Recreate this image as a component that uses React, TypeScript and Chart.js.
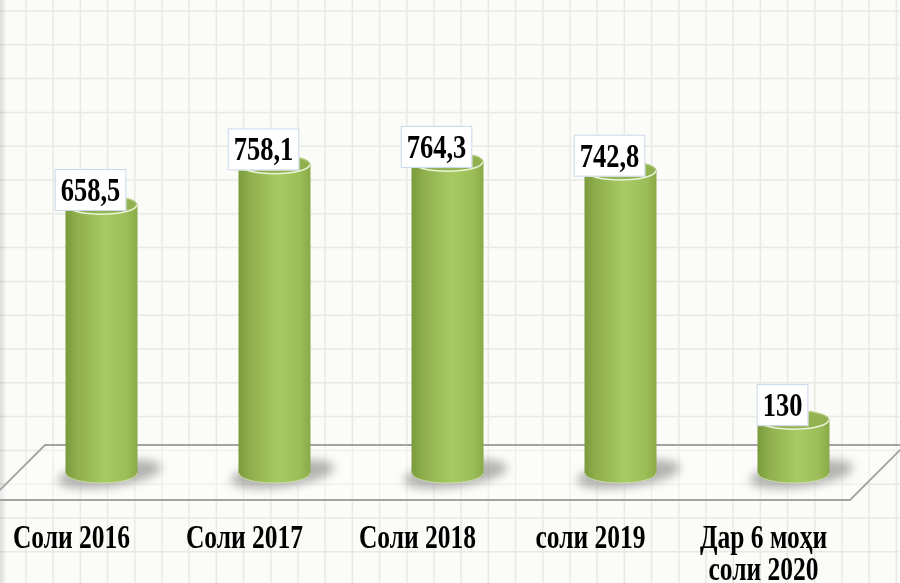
import React, { useEffect, useRef } from 'react';
import { Chart, registerables } from 'chart.js';

Chart.register(...registerables);

const categories: string[][] = [
  ['Соли 2016'],
  ['Соли 2017'],
  ['Соли 2018'],
  ['соли 2019'],
  ['Дар 6 моҳи', 'соли 2020'],
];
const values: number[] = [658.5, 758.1, 764.3, 742.8, 130];
const valueLabels: string[] = ['658,5', '758,1', '764,3', '742,8', '130'];

const FONT = '"Liberation Serif", "Times New Roman", serif';
const VSCALE = 1.28;

function stretchedText(ctx: CanvasRenderingContext2D, text: string, x: number, y: number) {
  ctx.save();
  ctx.translate(x, y);
  ctx.scale(1, VSCALE);
  ctx.fillText(text, 0, 0);
  ctx.restore();
}

const cylinderPlugin = {
  id: 'cylinders',
  beforeDraw(chart: any) {
    const ctx: CanvasRenderingContext2D = chart.ctx;
    const W = chart.width;
    const H = chart.height;
    const area = chart.chartArea;
    ctx.save();
    ctx.fillStyle = '#fbfbf8';
    ctx.fillRect(0, 0, W, H);
    // grid
    ctx.strokeStyle = '#e8e8e4';
    ctx.lineWidth = 1.5;
    for (let x = 26 - 27.2; x < W; x += 27.2) {
      ctx.beginPath();
      ctx.moveTo(x, 0);
      ctx.lineTo(x, H);
      ctx.stroke();
    }
    for (let y = 11; y < H; y += 33.8) {
      ctx.beginPath();
      ctx.moveTo(0, y);
      ctx.lineTo(W, y);
      ctx.stroke();
    }
    // left edge shade
    const lg = ctx.createLinearGradient(0, 0, 7, 0);
    lg.addColorStop(0, 'rgba(0,0,0,0.12)');
    lg.addColorStop(1, 'rgba(0,0,0,0)');
    ctx.fillStyle = lg;
    ctx.fillRect(0, 0, 7, H);
    // floor
    const base = area.bottom;
    const backY = base - 28;
    const frontY = base + 27;
    const bl = area.left + 30;
    const fr = area.right - 30;
    ctx.beginPath();
    ctx.moveTo(bl, backY);
    ctx.lineTo(fr + 55, backY);
    ctx.lineTo(fr, frontY);
    ctx.lineTo(bl - 55, frontY);
    ctx.closePath();
    ctx.fillStyle = 'rgba(255,255,255,0.35)';
    ctx.fill();
    ctx.strokeStyle = '#a3a3a3';
    ctx.lineWidth = 1.8;
    ctx.stroke();
    ctx.restore();
  },
  afterDatasetsDraw(chart: any) {
    const ctx: CanvasRenderingContext2D = chart.ctx;
    const meta = chart.getDatasetMeta(0);
    ctx.save();
    meta.data.forEach((bar: any, i: number) => {
      const cx = bar.x;
      const top = bar.y;
      const base = bar.base;
      const rx = bar.width / 2;
      const ry = 10;
      // shadow
      ctx.save();
      ctx.filter = 'blur(5px)';
      ctx.fillStyle = 'rgba(90,90,90,0.45)';
      ctx.beginPath();
      ctx.ellipse(cx + 8, base + 1, rx + 16, ry + 3, -0.13, 0, Math.PI * 2);
      ctx.fill();
      ctx.restore();
      // body
      const g = ctx.createLinearGradient(cx - rx, 0, cx + rx, 0);
      g.addColorStop(0, '#7a9a3c');
      g.addColorStop(0.15, '#8dae4b');
      g.addColorStop(0.55, '#a8ca63');
      g.addColorStop(0.85, '#9cbe58');
      g.addColorStop(1, '#89aa47');
      ctx.fillStyle = g;
      ctx.beginPath();
      ctx.moveTo(cx - rx, top);
      ctx.lineTo(cx - rx, base);
      ctx.ellipse(cx, base, rx, ry, 0, Math.PI, 0, true);
      ctx.lineTo(cx + rx, top);
      ctx.closePath();
      ctx.fill();
      // bottom rim
      ctx.strokeStyle = 'rgba(215,232,180,0.7)';
      ctx.lineWidth = 1;
      ctx.beginPath();
      ctx.ellipse(cx, base, rx - 0.5, ry, 0, Math.PI, 0, true);
      ctx.stroke();
      // top face
      const tg = ctx.createLinearGradient(cx - rx, 0, cx + rx, 0);
      tg.addColorStop(0, '#87a647');
      tg.addColorStop(0.5, '#97b756');
      tg.addColorStop(1, '#90b050');
      ctx.fillStyle = tg;
      ctx.beginPath();
      ctx.ellipse(cx, top, rx, ry, 0, 0, Math.PI * 2);
      ctx.fill();
      ctx.strokeStyle = '#b3cd82';
      ctx.lineWidth = 1.2;
      ctx.beginPath();
      ctx.ellipse(cx, top, rx - 0.6, ry - 0.6, 0, Math.PI, 0);
      ctx.stroke();
      ctx.strokeStyle = 'rgba(240,248,225,0.95)';
      ctx.lineWidth = 1.5;
      ctx.beginPath();
      ctx.ellipse(cx, top, rx - 0.8, ry - 0.8, 0, 0, Math.PI);
      ctx.stroke();

      // value label
      ctx.font = `bold 26.5px ${FONT}`;
      const label = valueLabels[i];
      const tw = ctx.measureText(label).width;
      const bw = tw + 12;
      const bh = 42;
      const bx = cx - 11 - bw / 2;
      const by = top - 15 - bh / 2;
      ctx.fillStyle = '#ffffff';
      ctx.fillRect(bx, by, bw, bh);
      ctx.strokeStyle = '#c9d7ea';
      ctx.lineWidth = 1;
      ctx.strokeRect(bx + 0.5, by + 0.5, bw - 1, bh - 1);
      ctx.fillStyle = '#000000';
      ctx.textAlign = 'center';
      ctx.textBaseline = 'alphabetic';
      stretchedText(ctx, label, cx - 11, top - 15 + 11);

      // category label
      ctx.font = `bold 25.5px ${FONT}`;
      const lines = categories[i];
      lines.forEach((ln, k) => {
        stretchedText(ctx, ln, cx - 30, 548 + k * 32);
      });
    });
    ctx.restore();
  },
};

export default function App() {
  const ref = useRef<HTMLCanvasElement | null>(null);
  useEffect(() => {
    if (!ref.current) return;
    const chart = new Chart(ref.current, {
      type: 'bar',
      data: {
        labels: categories,
        datasets: [
          {
            data: values,
            backgroundColor: 'rgba(0,0,0,0)',
            borderWidth: 0,
            barThickness: 72,
          },
        ],
      },
      options: {
        responsive: false,
        animation: false,
        devicePixelRatio: 1,
        layout: { padding: { left: 15, right: 20, top: 66, bottom: 110 } },
        scales: {
          x: { display: false },
          y: { display: false, min: 0, max: 1000 },
        },
        plugins: {
          legend: { display: false },
          tooltip: { enabled: false },
        },
      },
      plugins: [cylinderPlugin],
    });
    return () => chart.destroy();
  }, []);
  return (
    <div style={{ position: 'absolute', left: 0, top: 0, width: 900, height: 583 }}>
      <canvas ref={ref} width={900} height={583} />
    </div>
  );
}
